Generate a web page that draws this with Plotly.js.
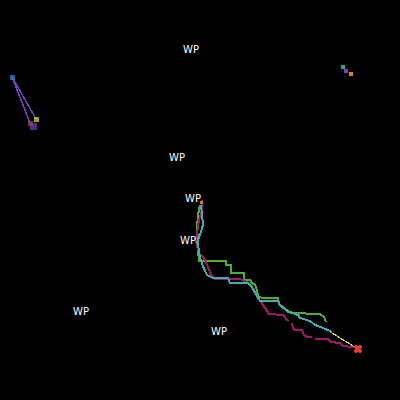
<!DOCTYPE html>
<html><head><meta charset="utf-8">
<script src="https://cdn.plot.ly/plotly-3.0.1.min.js"></script>
<style>html,body{margin:0;padding:0;background:#000}
.scatterlayer path{shape-rendering:crispEdges}
.scatterlayer text{-webkit-font-smoothing:antialiased}</style>
</head><body><div id="chart" style="width:400px;height:400px"></div>
<script>
// Waypoint labels
const wpX = [191, 177, 193, 188, 81, 219];
const wpY = [50, 158, 199, 241, 312, 332];
const wpText = ["WP","WP","WP","WP","WP","WP"];

// Trajectories
const greenX = [200,198,197,198,198,199,226,226,231,231,244,244,250,252,255,257,258,262,278,279,283,288,292,320,324,326];
const greenY = [205,215,228,240,250,261,261,265,265,273,273,280,280,283,285,290,296,298,298,304,307,312,313,314,317,322];

const tealX = [201,202,203,200,197,199,200,202,205,207,213,228,230,248,252,255,258,260,278,280,283,290,298,300,310,315,323,330,332];
const tealY = [205,215,225,235,242,250,257,264,270,275,278,278,283,283,287,292,298,301,301,305,308,312,315,318,321,325,328,331,333];

const magX = [202,202,199,197,196,198,200,203,205,207,209,211,215,240,247,251,254,257,261,264,267,269,283,286,288,null,292,293,295,302,304,307,312,null,315,328,331,340,343,353];
const magY = [200,210,220,232,240,250,255,257,260,265,270,275,279,279,282,286,292,297,302,307,312,314,315,318,321,null,323,328,330,330,335,337,337,null,339,339,342,343,346,347];

const finalX = [332,358];
const finalY = [333,349];
const goalX = [358];
const goalY = [349];

// Top-left cluster
const purpleAX = [12,30];
const purpleAY = [77,123];
const purpleBX = [12,36];
const purpleBY = [77,119];
const tlX = [12,36,30,33];
const tlY = [77,119,123,126];
const tlColor = ["#2a8fd0","#e8e020","#8a5a3a","#7a3fb0"];

// Top-right cluster
const trX = [343,346,351];
const trY = [67,71,74];
const trColor = ["#2aa88a","#7a3fb0","#e07a20"];

const startX = [201];
const startY = [202];

const noLine = {width:0};
const traces = [
  {x:purpleAX,y:purpleAY,mode:'lines',line:{color:'#7a3fc0',width:1.5}},
  {x:purpleBX,y:purpleBY,mode:'lines',line:{color:'#7a3fc0',width:1.5}},
  {x:tlX,y:tlY,mode:'markers',marker:{color:tlColor,size:[5,5,5,7],symbol:'square',line:noLine}},
  {x:trX,y:trY,mode:'markers',marker:{color:trColor,size:4,symbol:'square',line:noLine}},
  {x:greenX,y:greenY,mode:'lines',line:{color:'#4fae2a',width:2}},
  {x:magX,y:magY,mode:'lines',line:{color:'#a0186a',width:2},connectgaps:false},
  {x:tealX,y:tealY,mode:'lines',line:{color:'#3ab0b0',width:2}},
  {x:finalX,y:finalY,mode:'lines',line:{color:'#e0e020',width:1.2}},
  {x:goalX,y:goalY,mode:'markers',marker:{color:'#e83a30',size:8,symbol:'x',line:noLine}},
  {x:startX,y:startY,mode:'markers',marker:{color:'#e07a20',size:3,symbol:'square',line:noLine}},
  {x:wpX,y:wpY,mode:'text',text:wpText,textfont:{color:'#ffffff',size:10,family:'DejaVu Sans, sans-serif',shadow:'none'}}
];

const layout = {
  width:400,height:400,
  margin:{l:0,r:0,t:0,b:0},
  paper_bgcolor:'#000',plot_bgcolor:'#000',
  showlegend:false,
  xaxis:{range:[0,400],visible:false,fixedrange:true},
  yaxis:{range:[400,0],visible:false,fixedrange:true}
};
Plotly.newPlot('chart',traces,layout,{displayModeBar:false,staticPlot:true});
</script></body></html>
